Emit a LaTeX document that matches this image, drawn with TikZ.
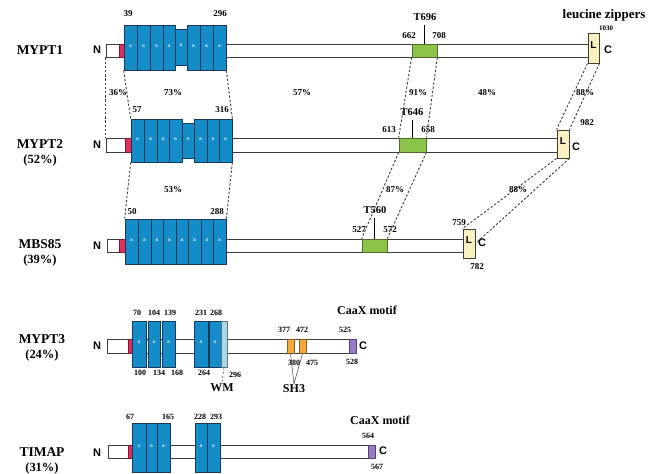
\documentclass[tikz,border=0pt]{standalone}
\usepackage{fontspec}
\setmainfont{Liberation Serif}
\newfontfamily\arialfont{Liberation Sans}
\usetikzlibrary{fit}

\definecolor{ankblue}{RGB}{20,140,200}
\definecolor{ankedge}{RGB}{25,55,90}
\definecolor{pinkred}{RGB}{228,45,90}
\definecolor{ppgreen}{RGB}{140,196,72}
\definecolor{lzyellow}{RGB}{250,240,192}
\definecolor{shorange}{RGB}{244,168,60}
\definecolor{caaxpurple}{RGB}{152,122,200}
\definecolor{wmblue}{RGB}{172,214,230}
\definecolor{inkgray}{RGB}{60,60,60}

\begin{document}
\begin{tikzpicture}[x=1pt, y=-1pt,
    bar/.style={draw=inkgray, fill=white, line width=0.9pt, inner sep=0pt},
    ank/.style={draw=ankedge, fill=ankblue, line width=0.7pt, inner sep=0pt,
        text=white!80!ankblue, font=\arialfont\bfseries\fontsize{5}{5}\selectfont},
    motif/.style={draw=#1!55!black, fill=#1, line width=0.7pt, inner sep=0pt},
    zip/.style={draw=inkgray, fill=lzyellow, line width=0.9pt, inner sep=0pt,
        font=\arialfont\bfseries\fontsize{10}{10}\selectfont},
    protname/.style={font=\bfseries\fontsize{13.5}{15}\selectfont, align=center, inner sep=0pt},
    num/.style={font=\bfseries\fontsize{9}{9}\selectfont, inner sep=1pt},
    numsm/.style={font=\bfseries\fontsize{8}{8}\selectfont, inner sep=1pt},
    pct/.style={font=\bfseries\fontsize{9}{9}\selectfont, inner sep=1pt},
    tag/.style={font=\bfseries\fontsize{10.5}{11}\selectfont, inner sep=1pt},
    head/.style={font=\bfseries\fontsize{13}{13}\selectfont, inner sep=1pt},
    term/.style={font=\arialfont\bfseries\fontsize{11}{11}\selectfont, inner sep=0pt},
    hom/.style={draw=inkgray, dash pattern=on 2.4pt off 1.8pt, line width=0.9pt},
    site/.style={draw=black, line width=1.8pt, shorten >=3pt},
    vline/.style={draw=inkgray, line width=0.5pt}]
    \useasboundingbox (0,0) rectangle (662,474);

    % MYPT1
    \node[protname] (n1) at (40,50) {MYPT1};
    \node[term] (nt1) at (97,50) {N};
    \node[bar, fit={(106,44) (588,57)}] (bar1) {};
    \node[motif=pinkred, fit={(119,44) (124,57)}] (pk1) {};
    \foreach \xa/\xb/\ya/\yb [count=\i] in {124/137/25/70, 137/150/25/70, 150/163/25/70,
        163/175/25/70, 175/187/29/65, 187/200/25/70, 200/213/25/70, 213/226/25/70}
        \node[ank, fit={(\xa,\ya) (\xb,\yb)}] (p1a\i) {a};
    \node[motif=ppgreen, fit={(412,44) (437,57)}] (g1) {};
    \node[tag] (t1) at (425,17) {T696};
    \draw[site] (g1.north) -- (g1.north |- t1.south);
    \node[zip, fit={(588,33) (599,63)}] (l1) {L};
    \node[term] (ct1) at (608,50) {C};
    \node[head] (lz) at (604,15) {leucine zippers};
    \node[font=\bfseries\fontsize{7}{7}\selectfont] (m1n1030) at (606,28) {1030};
    \foreach \x/\y/\t in {128/14/39, 220/14/296, 409/36/662, 439/36/708}
        \node[num] (m1n\t) at (\x,\y) {\t};

    % MYPT2
    \node[protname] (n2) at (40,153) {MYPT2\\{\fontsize{12.5}{15}\selectfont (52\%)}};
    \node[term] (nt2) at (97,145) {N};
    \node[bar, fit={(106,138) (557,152)}] (bar2) {};
    \node[motif=pinkred, fit={(125,138) (131,152)}] (pk2) {};
    \foreach \xa/\xb/\ya/\yb [count=\i] in {131/144/119/162, 144/157/119/162, 157/169/119/162,
        169/182/119/162, 182/194/123/158, 194/207/119/162, 207/219/119/162, 219/232/119/162}
        \node[ank, fit={(\xa,\ya) (\xb,\yb)}] (p2a\i) {a};
    \node[motif=ppgreen, fit={(399,138) (426,152)}] (g2) {};
    \node[tag] (t2) at (412,112) {T646};
    \draw[site] (g2.north) -- (g2.north |- t2.south);
    \node[zip, fit={(557,130) (569,158)}] (l2) {L};
    \node[term] (ct2) at (576,147) {C};
    \foreach \x/\y/\t in {137/110/57, 222/110/316, 389/130/613, 428/130/658, 587/123/982}
        \node[num] (m2n\t) at (\x,\y) {\t};

    % MBS85
    \node[protname] (n3) at (40,253) {MBS85\\{\fontsize{12.5}{15}\selectfont (39\%)}};
    \node[term] (nt3) at (97,246) {N};
    \node[bar, fit={(107,239) (463,252)}] (bar3) {};
    \node[motif=pinkred, fit={(119,239) (125,252)}] (pk3) {};
    \foreach \xa/\xb [count=\i] in {125/138, 138/151, 151/163, 163/176, 176/188, 188/201, 201/213, 213/226}
        \node[ank, fit={(\xa,219) (\xb,264)}] (p3a\i) {a};
    \node[motif=ppgreen, fit={(362,239) (387,252)}] (g3) {};
    \node[tag] (t3) at (375,210) {T560};
    \draw[site] (g3.north) -- (g3.north |- t3.south);
    \node[zip, fit={(463,229) (475,258)}] (l3) {L};
    \node[term] (ct3) at (482,243) {C};
    \foreach \x/\y/\t in {132/212/50, 217/212/288, 359/230/527, 390/230/572, 459/223/759, 477/267/782}
        \node[num] (m3n\t) at (\x,\y) {\t};

    % homology between MYPT1, MYPT2 and MBS85
    \draw[hom] (bar1.south west) -- (bar2.north west);
    \draw[hom] (p1a1.south west) -- (p2a1.north west);
    \draw[hom] (p1a8.south east) -- (p2a8.north east);
    \draw[hom] (g1.south west) -- (g2.north west);
    \draw[hom] (g1.south east) -- (g2.north east);
    \draw[hom] (l1.south west) -- (l2.north west);
    \draw[hom] (l1.south east) -- (l2.north east);
    \draw[hom] (p2a1.south west) -- (p3a1.north west);
    \draw[hom] (p2a8.south east) -- (p3a8.north east);
    \draw[hom] (g2.south west) -- (g3.north west);
    \draw[hom] (g2.south east) -- (g3.north east);
    \draw[hom] (l2.south west) -- (l3.north west);
    \draw[hom] (l2.south east) -- (l3.east);
    \foreach \x/\t in {118/36, 173/73, 302/57, 418/91, 487/48, 585/88}
        \node[pct] (h1p\x) at (\x,93) {\t\%};
    \foreach \x/\t in {173/53, 395/87, 518/88}
        \node[pct] (h2p\x) at (\x,190) {\t\%};

    % MYPT3
    \node[protname] (n4) at (42,348) {MYPT3\\{\fontsize{12.5}{15}\selectfont (24\%)}};
    \node[term] (nt4) at (97,346) {N};
    \node[bar, fit={(107,339) (349,353)}] (bar4) {};
    \node[motif=pinkred, fit={(128,339) (132,353)}] (pk4) {};
    \foreach \xa/\xb [count=\i] in {132/146, 148/160, 162/175, 194/208, 209/221}
        \node[ank, fit={(\xa,321) (\xb,367)}] (p4a\i) {a};
    \node[motif=wmblue, fit={(221,321) (227,367)}] (wm) {};
    \node[motif=shorange, fit={(287,339) (294,353)}] (o1) {};
    \node[motif=shorange, fit={(299,339) (306,353)}] (o2) {};
    \node[motif=caaxpurple, fit={(349,339) (356,353)}] (cx4) {};
    \node[term] (ct4) at (363,346) {C};
    \node[head, font=\bfseries\fontsize{12}{12}\selectfont] (caax4) at (367,310) {CaaX motif};
    \node[head, font=\bfseries\fontsize{12}{12}\selectfont] (wmt) at (222,388) {WM};
    \node[head, font=\bfseries\fontsize{12}{12}\selectfont] (sh3) at (294,389) {SH3};
    \draw[hom, line width=0.5pt] (wm.south) -- (wmt.north);
    \draw[vline] (o1.south) -- (sh3.north);
    \draw[vline] (o2.south) -- (sh3.north);
    \foreach \x/\y/\t in {137/313/70, 154/313/104, 170/313/139, 201/313/231, 216/313/268,
        140/373/100, 159/373/134, 177/373/168, 204/373/264, 235/375/296,
        284/330/377, 302/330/472, 294/363/380, 312/363/475, 345/330/525, 352/362/528}
        \node[numsm] (m4n\t) at (\x,\y) {\t};

    % TIMAP
    \node[protname] (n5) at (42,461) {TIMAP\\{\fontsize{12.5}{15}\selectfont (31\%)}};
    \node[term] (nt5) at (97,453) {N};
    \node[bar, fit={(108,445) (368,458)}] (bar5) {};
    \node[motif=pinkred, fit={(128,445) (132,458)}] (pk5) {};
    \foreach \xa/\xb [count=\i] in {132/146, 146/157, 157/170, 195/207, 207/220}
        \node[ank, fit={(\xa,423) (\xb,472)}] (p5a\i) {a};
    \node[motif=caaxpurple, fit={(368,445) (375,458)}] (cx5) {};
    \node[term] (ct5) at (383,451) {C};
    \node[head, font=\bfseries\fontsize{12}{12}\selectfont] (caax5) at (380,420) {CaaX motif};
    \foreach \x/\y/\t in {130/417/67, 168/417/165, 200/417/228, 216/417/293, 368/436/564, 377/467/567}
        \node[numsm] (m5n\t) at (\x,\y) {\t};
\end{tikzpicture}
\end{document}
